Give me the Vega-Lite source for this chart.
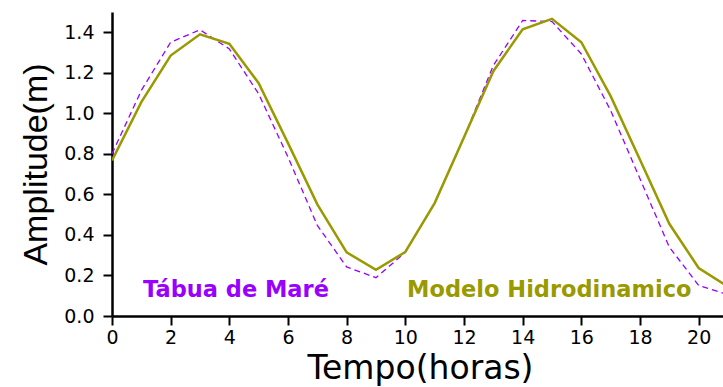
{
  "$schema": "https://vega.github.io/schema/vega-lite/v6.json",
  "autosize": {"type": "none"},
  "padding": {"left": 112, "top": 12, "right": 0, "bottom": 71},
  "width": 611,
  "height": 304,
  "background": "white",
  "config": {
    "view": {"stroke": null},
    "axis": {
      "grid": false,
      "domainColor": "black",
      "domainWidth": 2.5,
      "tickColor": "black",
      "tickWidth": 2,
      "tickSize": 9,
      "labelColor": "black",
      "labelFont": "DejaVu Sans",
      "labelFontSize": 19,
      "titleColor": "black",
      "titleFontWeight": "normal"
    }
  },
  "datasets": {
    "mare": [
      {"t": 0, "amp": 0.80}, {"t": 1, "amp": 1.113}, {"t": 2, "amp": 1.351},
      {"t": 3, "amp": 1.412}, {"t": 4, "amp": 1.318}, {"t": 5, "amp": 1.096},
      {"t": 6, "amp": 0.784}, {"t": 7, "amp": 0.447}, {"t": 8, "amp": 0.242},
      {"t": 9, "amp": 0.189}, {"t": 10, "amp": 0.314}, {"t": 11, "amp": 0.557},
      {"t": 12, "amp": 0.88}, {"t": 13, "amp": 1.236}, {"t": 14, "amp": 1.458},
      {"t": 15, "amp": 1.453}, {"t": 16, "amp": 1.293}, {"t": 17, "amp": 1.014},
      {"t": 18, "amp": 0.677}, {"t": 19, "amp": 0.340}, {"t": 20, "amp": 0.151},
      {"t": 21, "amp": 0.105}
    ],
    "modelo": [
      {"t": 0, "amp": 0.767}, {"t": 1, "amp": 1.055}, {"t": 2, "amp": 1.285},
      {"t": 3, "amp": 1.390}, {"t": 4, "amp": 1.343}, {"t": 5, "amp": 1.149},
      {"t": 6, "amp": 0.853}, {"t": 7, "amp": 0.551}, {"t": 8, "amp": 0.314},
      {"t": 9, "amp": 0.228}, {"t": 10, "amp": 0.316}, {"t": 11, "amp": 0.557},
      {"t": 12, "amp": 0.882}, {"t": 13, "amp": 1.208}, {"t": 14, "amp": 1.415},
      {"t": 15, "amp": 1.466}, {"t": 16, "amp": 1.351}, {"t": 17, "amp": 1.085},
      {"t": 18, "amp": 0.771}, {"t": 19, "amp": 0.455}, {"t": 20, "amp": 0.237},
      {"t": 21, "amp": 0.145}
    ],
    "rotulos": [
      {"serie": "Tábua de Maré", "t": 1.057, "amp": 0.095},
      {"serie": "Modelo Hidrodinamico", "t": 10.06, "amp": 0.095}
    ]
  },
  "layer": [
    {
      "data": {"name": "mare"},
      "mark": {
        "type": "line",
        "clip": true,
        "color": "#9900ff",
        "strokeWidth": 1.3,
        "strokeDash": [6, 4]
      },
      "encoding": {
        "x": {
          "field": "t",
          "type": "quantitative",
          "scale": {"domain": [0, 20.83], "nice": false, "zero": false},
          "axis": {
            "title": "Tempo(horas)",
            "values": [0, 2, 4, 6, 8, 10, 12, 14, 16, 18, 20],
            "format": "d",
            "labelPadding": 3,
            "labelFlush": false,
            "labelOverlap": false,
            "titleFont": "DejaVu Sans",
            "titleFontSize": 33,
            "titleBaseline": "alphabetic",
            "titleAnchor": "start",
            "titleAlign": "center",
            "titleX": 308,
            "titleY": 62
          }
        },
        "y": {
          "field": "amp",
          "type": "quantitative",
          "scale": {"domain": [0, 1.5], "nice": false},
          "axis": {
            "title": "Amplitude(m)",
            "values": [0, 0.2, 0.4, 0.6, 0.8, 1.0, 1.2, 1.4],
            "format": ".1f",
            "labelPadding": 9,
            "labelFlush": false,
            "labelOverlap": false,
            "titleFont": "Liberation Sans",
            "titleFontSize": 34,
            "titleBaseline": "alphabetic",
            "titleAlign": "center",
            "titleAngle": 270,
            "titleX": -66,
            "titleY": 152
          }
        }
      }
    },
    {
      "data": {"name": "modelo"},
      "mark": {
        "type": "line",
        "clip": true,
        "color": "#999900",
        "strokeWidth": 2.5
      },
      "encoding": {
        "x": {"field": "t", "type": "quantitative"},
        "y": {"field": "amp", "type": "quantitative"}
      }
    },
    {
      "data": {"name": "rotulos"},
      "mark": {
        "type": "text",
        "font": "DejaVu Sans",
        "fontWeight": "bold",
        "fontSize": 22.5,
        "align": "left",
        "baseline": "alphabetic"
      },
      "encoding": {
        "x": {"field": "t", "type": "quantitative"},
        "y": {"field": "amp", "type": "quantitative"},
        "text": {"field": "serie"},
        "color": {
          "field": "serie",
          "type": "nominal",
          "scale": {
            "domain": ["Tábua de Maré", "Modelo Hidrodinamico"],
            "range": ["#9900ff", "#999900"]
          },
          "legend": null
        }
      }
    }
  ]
}
